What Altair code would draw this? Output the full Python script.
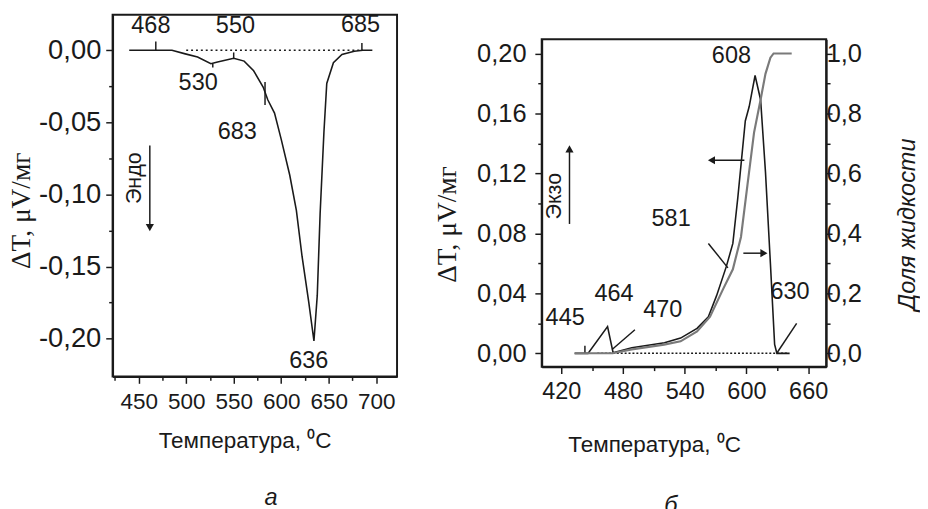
import altair as alt
import pandas as pd

# ---------------- Panel a (DTA, endo) ----------------
a_T = [440, 468, 485, 499, 512, 526, 533, 550, 561, 571, 581, 586, 593, 600,
       609, 616, 622, 629, 634.5, 638, 641, 645, 648, 655, 664, 677, 686, 696]
a_dT = [0, 0, 0, -0.0025, -0.0047, -0.0093, -0.0081, -0.0056, -0.0075, -0.0142,
        -0.0255, -0.0345, -0.0436, -0.0616, -0.0865, -0.111, -0.143, -0.1745,
        -0.2016, -0.170, -0.1135, -0.057, -0.023, -0.0086, -0.0029, -0.0007, 0, 0]
a_base = [500, 686]
a_lab_text = ["468", "550", "685", "530", "683", "636"]
a_lab_T = [462.8, 551.8, 683.5, 512.6, 553.8, 629]
a_lab_dT = [0.0165, 0.0165, 0.0175, -0.023, -0.0569, -0.2153]
a_mark_T = [468, 550, 583, 685, 528]
a_mark_y1 = [0, -0.0056, -0.022, 0, -0.0093]
a_mark_y2 = [0.006, -0.0015, -0.038, 0.005, -0.012]
a_arrow_T = [461.7]
a_arrow_y1 = [-0.066]
a_arrow_y2 = [-0.123]

# ---------------- Panel b (DTA, exo + liquid fraction) ----------------
b_T = [433, 446, 465, 470.4, 488.6, 520.3, 536, 552, 563, 571, 580.5, 586.8,
       591.6, 598.9, 602.7, 608.4, 613.8, 618.5, 623.3, 627.4, 629.6, 642]
b_dT = [0, 0, 0.0178, 0.0004, 0.0037, 0.007, 0.0102, 0.0167, 0.0244, 0.0385,
        0.058, 0.0733, 0.1037, 0.155, 0.1646, 0.1853, 0.169, 0.121, 0.060,
        0.0059, 0, 0]
f_T = [433, 470, 488.6, 520, 536, 552, 564.6, 577.3, 586.8, 594.7, 601, 607.4,
       613.7, 618.5, 623.3, 626.4, 644]
f_val = [0, 0, 0.013, 0.029, 0.04, 0.073, 0.122, 0.214, 0.28, 0.388, 0.562,
         0.736, 0.845, 0.932, 0.986, 1.0, 1.0]
b_base = [455, 640]
b_lab_text = ["608", "581", "464", "445", "470", "630"]
b_lab_T = [585.4, 526.8, 471.3, 423.8, 518.6, 642.4]
b_lab_dT = [0.198, 0.0896, 0.0396, 0.0233, 0.0287, 0.0407]
# pointer / arrow segments
b_seg_x1 = [563, 491.6, 648.8, 443, 598, 597, 428]
b_seg_x2 = [582, 469.4, 629.8, 443, 567, 616, 428]
b_seg_y1 = [0.0733, 0.0157, 0.02, 0, 0.1288, 0.0668, 0.0863]
b_seg_y2 = [0.057, 0.0026, 0.0004, 0.005, 0.1288, 0.0668, 0.1364]
b_head_T = [566, 617, 428]
b_head_dT = [0.1288, 0.0668, 0.1364]
b_head_shape = ["triangle-left", "triangle-right", "triangle-up"]

FONT = "Liberation Sans"
INK = "#1a1a1a"


def ylab(fmt, test):
    return (f"{test} ? replace(replace(format(datum.value, '{fmt}'), '.', ','), '\u2212', '-') : ''")


# ---------- panel a ----------
xa_scale = alt.Scale(domain=[422.5, 722], nice=False, zero=False)
ya_scale = alt.Scale(domain=[-0.2262, 0.0246], nice=False, zero=False)

xa_axis = alt.Axis(
    values=[425 + 25 * i for i in range(12)],
    labelExpr="datum.value % 50 == 0 ? datum.value : ''",
    tickSize=alt.condition("datum.value % 50 == 0", alt.value(7), alt.value(4)),
    labelOverlap=False, labelFontSize=23, labelPadding=7.5,
    title="Температура, \u2070C", titleFontSize=23, titleFontWeight="normal",
    titlePadding=17.5, titleX=135, grid=False,
)
ya_axis = alt.Axis(
    values=[round(-0.2 + 0.025 * i, 3) for i in range(9)],
    labelExpr=ylab(".2f", "abs(round(datum.value*1000)) % 50 == 0"),
    tickSize=alt.condition("abs(round(datum.value*1000)) % 50 == 0", alt.value(7), alt.value(4)),
    labelOverlap=False, labelFontSize=28, labelPadding=5,
    title="\u0394T, \u03bcV/мг", titleFont="Liberation Serif", titleFontSize=28,
    titleFontWeight="normal", titlePadding=3, titleY=200, grid=False,
)


def XA(f):
    return alt.X(f, scale=xa_scale, axis=xa_axis)


def YA(f):
    return alt.Y(f, scale=ya_scale, axis=ya_axis)


dfa = pd.DataFrame({"T": a_T, "dT": a_dT})
a_line = alt.Chart(dfa).mark_line(color=INK, strokeWidth=1.6).encode(
    x=XA("T:Q"), y=YA("dT:Q"),
)
a_base_df = pd.DataFrame({"T": [a_base[0]], "T2": [a_base[1]], "dT": [0]})
a_dotted = alt.Chart(a_base_df).mark_rule(color=INK, strokeDash=[2, 3], strokeWidth=1.5).encode(
    x=XA("T:Q"), x2="T2:Q", y=YA("dT:Q"),
)
a_marks_df = pd.DataFrame({"T": a_mark_T, "dT": a_mark_y1, "dT2": a_mark_y2})
a_marks = alt.Chart(a_marks_df).mark_rule(color=INK, strokeWidth=1.5).encode(
    x=XA("T:Q"), y=YA("dT:Q"), y2="dT2:Q",
)
a_lab_df = pd.DataFrame({"T": a_lab_T, "dT": a_lab_dT, "t": a_lab_text})
a_labels = alt.Chart(a_lab_df).mark_text(font=FONT, fontSize=24, color=INK).encode(
    x=XA("T:Q"), y=YA("dT:Q"), text="t:N",
)
a_arr_df = pd.DataFrame({"T": a_arrow_T, "dT": a_arrow_y1, "dT2": a_arrow_y2})
a_arrow = alt.Chart(a_arr_df).mark_rule(color=INK, strokeWidth=1.5).encode(
    x=XA("T:Q"), y=YA("dT:Q"), y2="dT2:Q",
)
a_head = alt.Chart(a_arr_df).mark_point(shape="triangle-down", filled=True, color=INK, size=70, opacity=1).encode(
    x=XA("T:Q"), y=YA("dT2:Q"),
)
a_endo_df = pd.DataFrame({"T": [445.7], "dT": [-0.0887], "t": ["Эндо"]})
a_endo = alt.Chart(a_endo_df).mark_text(font=FONT, fontSize=22, color=INK, angle=270, baseline="middle").encode(
    x=XA("T:Q"), y=YA("dT:Q"), text="t:N",
)
a_letter = alt.Chart(pd.DataFrame({"t": ["а"]})).mark_text(
    font=FONT, fontSize=24, fontStyle="italic", color=INK
).encode(x=alt.value(162), y=alt.value(494), text="t:N")

panel_a = alt.layer(a_line, a_dotted, a_marks, a_labels, a_arrow, a_head, a_endo, a_letter).properties(
    width=291, height=370
)

# ---------- panel b ----------
xb_scale = alt.Scale(domain=[401, 677.5], nice=False, zero=False)
yb_scale = alt.Scale(domain=[-0.0089, 0.2095], nice=False, zero=False)
fb_scale = alt.Scale(domain=[-0.0447, 1.0475], nice=False, zero=False)

xb_axis = alt.Axis(
    values=[420 + 30 * i for i in range(9)],
    labelExpr="datum.value % 60 == 0 ? datum.value : ''",
    tickSize=alt.condition("datum.value % 60 == 0", alt.value(7), alt.value(4)),
    labelOverlap=False, labelFontSize=24, labelPadding=7,
    title="Температура, \u2070C", titleFontSize=23, titleFontWeight="normal",
    titlePadding=31, titleX=115, grid=False,
)
yb_axis = alt.Axis(
    values=[round(0.02 * i, 2) for i in range(11)],
    labelExpr=ylab(".2f", "round(datum.value*100) % 4 == 0"),
    tickSize=alt.condition("round(datum.value*100) % 4 == 0", alt.value(7), alt.value(4)),
    labelOverlap=False, labelFontSize=26, labelPadding=9,
    title="\u0394T, \u03bcV/мг", titleFont="Liberation Serif", titleFontSize=28,
    titleFontWeight="normal", titlePadding=16, titleY=189, grid=False,
)
fb_axis = alt.Axis(
    orient="right",
    values=[round(0.1 * i, 1) for i in range(11)],
    labelExpr=ylab(".1f", "round(datum.value*10) % 2 == 0"),
    tickSize=alt.condition("round(datum.value*10) % 2 == 0", alt.value(6), alt.value(4)),
    labelOverlap=False, labelFontSize=26, labelPadding=-6,
    title="Доля жидкости", titleFontSize=24, titleFontStyle="italic",
    titleFontWeight="normal", titleX=83, titleY=189, titleAngle=270,
    titleBaseline="middle", grid=False,
)


def XB(f):
    return alt.X(f, scale=xb_scale, axis=xb_axis)


def YB(f):
    return alt.Y(f, scale=yb_scale, axis=yb_axis)


dfb = pd.DataFrame({"T": b_T, "dT": b_dT})
b_line = alt.Chart(dfb).mark_line(color=INK, strokeWidth=1.6).encode(
    x=XB("T:Q"), y=YB("dT:Q"),
)
b_base_df = pd.DataFrame({"T": [b_base[0]], "T2": [b_base[1]], "dT": [0]})
b_dotted = alt.Chart(b_base_df).mark_rule(color=INK, strokeDash=[2, 2], strokeWidth=1.5).encode(
    x=XB("T:Q"), x2="T2:Q", y=YB("dT:Q"),
)
b_seg_df = pd.DataFrame({"T": b_seg_x1, "T2": b_seg_x2, "dT": b_seg_y1, "dT2": b_seg_y2})
b_segs = alt.Chart(b_seg_df).mark_rule(color=INK, strokeWidth=1.5).encode(
    x=XB("T:Q"), x2="T2:Q", y=YB("dT:Q"), y2="dT2:Q",
)
b_head_df = pd.DataFrame({"T": b_head_T, "dT": b_head_dT, "s": b_head_shape})
b_heads = alt.Chart(b_head_df).mark_point(filled=True, color=INK, size=70, opacity=1).encode(
    x=XB("T:Q"), y=YB("dT:Q"),
    shape=alt.Shape("s:N", scale=None, legend=None),
)
b_lab_df = pd.DataFrame({"T": b_lab_T, "dT": b_lab_dT, "t": b_lab_text})
b_labels = alt.Chart(b_lab_df).mark_text(font=FONT, fontSize=24, color=INK).encode(
    x=XB("T:Q"), y=YB("dT:Q"), text="t:N",
)
b_exo_df = pd.DataFrame({"T": [412.8], "dT": [0.1048], "t": ["Экзо"]})
b_exo = alt.Chart(b_exo_df).mark_text(font=FONT, fontSize=22, color=INK, angle=270, baseline="middle").encode(
    x=XB("T:Q"), y=YB("dT:Q"), text="t:N",
)
b_letter = alt.Chart(pd.DataFrame({"t": ["б"]})).mark_text(
    font=FONT, fontSize=24, fontStyle="italic", color=INK
).encode(x=alt.value(132), y=alt.value(478), text="t:N")

dT_layers = alt.layer(b_line, b_dotted, b_segs, b_heads, b_labels, b_exo, b_letter)

dff = pd.DataFrame({"T": f_T, "f": f_val})
f_line = alt.Chart(dff).mark_line(color="#7a7a7a", strokeWidth=2.2).encode(
    x=XB("T:Q"),
    y=alt.Y("f:Q", scale=fb_scale, axis=fb_axis),
)

panel_b = alt.layer(dT_layers, f_line).resolve_scale(y="independent").properties(
    width=291, height=335,
)

# empty strip that lowers panel b's frame relative to panel a
spacer = alt.Chart(pd.DataFrame({"t": [""]})).mark_text(opacity=0, baseline="top", fontSize=4).encode(
    x=alt.value(10), y=alt.value(8), text="t:N"
).properties(width=291, height=24, view=alt.ViewBackground(stroke="transparent", strokeWidth=0))

right_col = alt.vconcat(spacer, panel_b, spacing=0)

chart = alt.hconcat(panel_a, right_col, spacing=35).properties(
    padding={"left": -1, "top": -2, "right": 0, "bottom": 0},
    background="white",
).configure_view(
    stroke=INK, strokeWidth=2
).configure_axis(
    domainColor=INK, domainWidth=2, tickColor=INK, tickWidth=1.5,
    labelColor=INK, titleColor=INK, labelFont=FONT, titleFont=FONT,
)

chart.save("out.html", embed_options={"renderer": "svg", "actions": False})
